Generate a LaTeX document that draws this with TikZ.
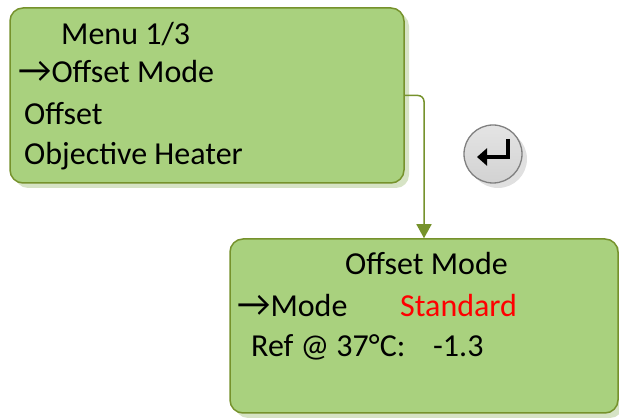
\documentclass[tikz,border=0pt]{standalone}
\usepackage{fontspec}
\setmainfont{Carlito}
\usetikzlibrary{shadows,arrows.meta}
\definecolor{menufill}{RGB}{169,209,126}
\definecolor{menuline}{RGB}{118,146,44}
\definecolor{menushadow}{RGB}{214,227,197}
\definecolor{keyfill}{RGB}{210,210,210}
\definecolor{keyline}{RGB}{128,128,128}
\definecolor{keyshadow}{RGB}{224,224,224}
\definecolor{valred}{RGB}{255,0,0}
\tikzset{
  screen/.style={draw=menuline, line width=1.5pt, fill=menufill, rounded corners=13pt,
    drop shadow={shadow xshift=5pt, shadow yshift=-5pt, fill=menushadow, opacity=1}},
  textline/.style={anchor=base west, inner sep=0pt, font=\fontsize{32}{38}\selectfont},
  key/.style={circle, minimum size=58pt, top color=keyfill!60!white, bottom color=keyfill,
    draw=keyline, line width=1.3pt,
    drop shadow={shadow xshift=5pt, shadow yshift=-5pt, fill=keyshadow, opacity=1}},
}
\begin{document}
\begin{tikzpicture}[x=1pt, y=-1pt]
      \useasboundingbox (0,0) rectangle (619,419);
      \node[screen, minimum width=394pt, minimum height=175pt] (menu) at (207,95.5) {};
      \node[screen, minimum width=388pt, minimum height=174pt] (mode) at (424,326) {};
      \node[key] (enter) at (493,154) {};
      \draw
        (61,45) node[textline] (title) {Menu 1/3}
        (18,83) node[textline] (item1) {\scalebox{1.15}{→}Offset Mode}
        (24,125) node[textline] (item2) {Offset}
        (24,165) node[textline] (item3) {Objective Heater}
        (345,275) node[textline] (head) {Offset Mode}
        (237,317) node[textline] (modekey) {\scalebox{1.15}{→}Mode}
        (400,317) node[textline, text=valred] (modeval) {Standard}
        (251,357) node[textline] (refkey) {Ref @ 37°C:}
        (433,357) node[textline] (refval) {-1.3};
      \begin{scope}[line width=1.5pt, draw=menuline, rounded corners=6pt]
        \draw[-{Triangle[width=15pt,length=14pt]}, menuline] (menu.east) -| (mode.north);
      \end{scope}
      \draw[line width=4pt, -{Triangle[width=17pt,length=10pt]}] (508,139) -- (508,157) -- (477,157);
    \end{tikzpicture}
\end{document}
